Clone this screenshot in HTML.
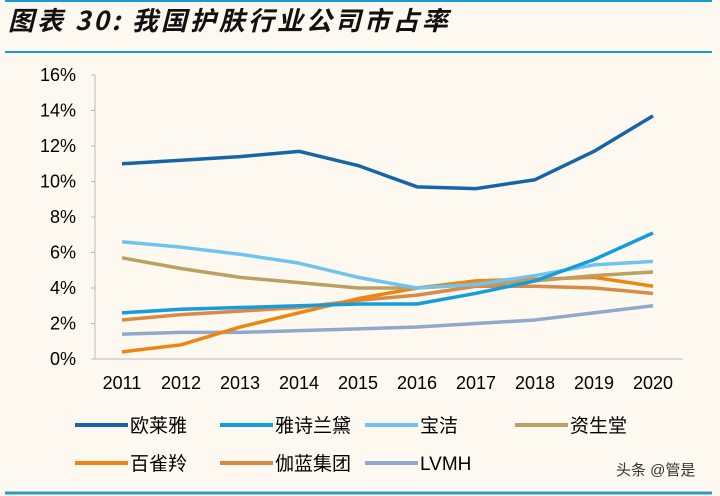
<!DOCTYPE html><html><head><meta charset="utf-8"><style>
body{margin:0;background:#fdf9f0;}
svg{display:block;font-family:"Liberation Sans","Noto Sans CJK SC",sans-serif;}
</style></head><body>
<svg id="s" width="720" height="496" xmlns="http://www.w3.org/2000/svg">
<rect width="720" height="496" fill="#fdf9f0"/>
<line x1="5" y1="1" x2="712" y2="1" stroke="#1c9ad6" stroke-width="2"/>
<line x1="5" y1="52" x2="712" y2="52" stroke="#1c9ad6" stroke-width="2"/>
<line x1="5" y1="493" x2="712" y2="493" stroke="#2a9ac8" stroke-width="3"/>
<text x="8" y="30" font-size="26" letter-spacing="3" font-style="italic" font-weight="bold" fill="#111" font-family="'Noto Sans CJK SC',sans-serif">图表 30:  我国护肤行业公司市占率</text>
<g id="g"></g>
</svg>
<script>
const g=document.getElementById('g');let h='';
const Y=v=>359-17.75*v, X=i=>122+59*i;
h+='<line x1="95" y1="75" x2="95" y2="359" stroke="#bbb"/>';
for(let i=0;i<=8;i++){let v=i*2,y=Y(v);h+=`<line x1="91" y1="${y}" x2="95" y2="${y}" stroke="#bbb"/><text x="76" y="${y+6}" font-size="18" text-anchor="end" fill="#000">${v}%</text>`;}
h+='<line x1="95" y1="359" x2="683" y2="359" stroke="#bbb"/>';
for(let i=0;i<10;i++)h+=`<text x="${X(i)}" y="389" font-size="18" text-anchor="middle" fill="#000">${2011+i}</text>`;
const S=[
['欧莱雅','#1565a8',[11,11.2,11.4,11.7,10.9,9.7,9.6,10.1,11.7,13.7]],
['雅诗兰黛','#139ddf',[2.6,2.8,2.9,3.0,3.1,3.1,3.7,4.4,5.6,7.1]],
['宝洁','#6fc3f0',[6.6,6.3,5.9,5.4,4.6,4.0,4.2,4.7,5.3,5.5]],
['资生堂','#bb9f63',[5.7,5.1,4.6,4.3,4.0,4.0,4.2,4.4,4.7,4.9]],
['百雀羚','#ef8511',[0.4,0.8,1.8,2.6,3.4,4.0,4.4,4.5,4.6,4.1]],
['伽蓝集团','#d98a45',[2.2,2.5,2.7,2.9,3.3,3.6,4.1,4.1,4.0,3.7]],
['LVMH','#8fa8cc',[1.4,1.5,1.5,1.6,1.7,1.8,2.0,2.2,2.6,3.0]]];
[6,5,4,3,2,1,0].forEach(k=>{const s=S[k];h+=`<polyline fill="none" stroke="${s[1]}" stroke-width="3.5" stroke-linejoin="round" points="${s[2].map((v,i)=>X(i)+','+Y(v)).join(' ')}"/>`;});
const lx=[[75,425],[220,425],[365,425],[515,425],[75,463],[220,463],[365,463]];
S.forEach((s,k)=>{const [x,y]=lx[k];h+=`<line x1="${x}" y1="${y}" x2="${x+53}" y2="${y}" stroke="${s[1]}" stroke-width="4"/><text x="${x+55}" y="${y+7}" font-size="19" fill="#000">${s[0]}</text>`;});
h+='<text x="616" y="475" font-size="15" fill="#333">头条 @管是</text>';
g.innerHTML=h;
</script>
</body></html>
